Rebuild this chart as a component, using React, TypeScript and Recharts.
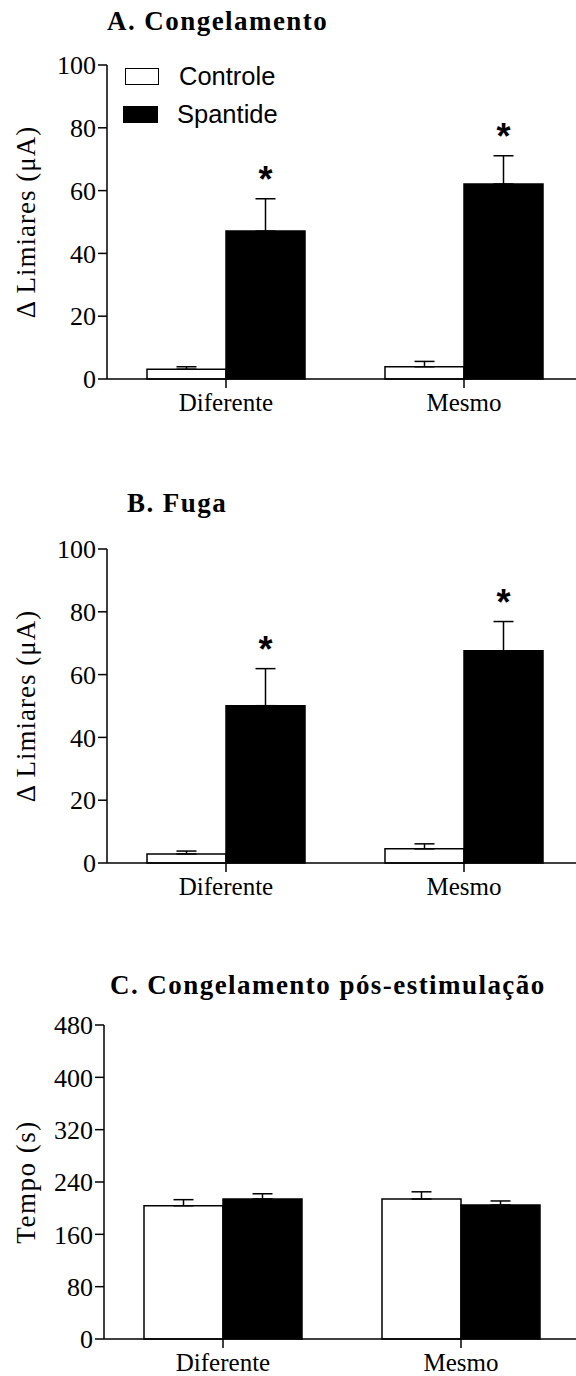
import React from "react";
import {
  BarChart, Bar, XAxis, YAxis, ErrorBar, LabelList, Legend,
} from "recharts";

const categories = ["Diferente", "Mesmo"];

// A. Congelamento
const aControle = [3.1, 3.9];
const aControleErr = [0.8, 1.7];
const aSpantide = [47.1, 62.1];
const aSpantideErr = [10.3, 9.0];

// B. Fuga
const bControle = [2.9, 4.5];
const bControleErr = [0.9, 1.6];
const bSpantide = [50.1, 67.6];
const bSpantideErr = [11.8, 9.3];

// C. Congelamento pós-estimulação
const cControle = [203.7, 214];
const cControleErr = [9.3, 11];
const cSpantide = [214, 204.8];
const cSpantideErr = [8, 6.2];

const limiarTicks = [0, 20, 40, 60, 80, 100];
const tempoTicks = [0, 80, 160, 240, 320, 400, 480];

const SERIF = "'Liberation Serif', 'Times New Roman', serif";
const SANS = "'Liberation Sans', Arial, sans-serif";

function buildRows(ctrl: number[], ctrlErr: number[], sp: number[], spErr: number[]) {
  return categories.map((name, i) => ({
    name,
    controle: ctrl[i],
    controleErr: [0, ctrlErr[i]],
    spantide: sp[i],
    spantideErr: [0, spErr[i]],
  }));
}

function LegendContent() {
  return (
    <div style={{ position: "relative", width: 300, height: 130, fontFamily: SANS, fontSize: 25.5 }}>
      <div style={{ position: "absolute", left: 125, top: 68, width: 32, height: 15, border: "1.5px solid #000", background: "#fff" }} />
      <div style={{ position: "absolute", left: 179, top: 62, lineHeight: "29px" }}>Controle</div>
      <div style={{ position: "absolute", left: 123, top: 106, width: 35, height: 17, background: "#000" }} />
      <div style={{ position: "absolute", left: 177, top: 100, lineHeight: "29px" }}>Spantide</div>
    </div>
  );
}

interface PanelProps {
  top: number;
  height: number;
  title: string;
  titleX: number;
  titleY: number;
  yLabel: string;
  yLabelSpacing: number;
  ticks: number[];
  axisX: number;
  data: ReturnType<typeof buildRows>;
  spValues: number[];
  spErrs: number[];
  stars: boolean;
  legend: boolean;
}

function Panel({
  top, height, title, titleX, titleY, yLabel, yLabelSpacing, ticks, axisX,
  data, spValues, spErrs, stars, legend,
}: PanelProps) {
  const chartW = 600;
  const plotW = 476;

  const renderYLabel = (props: any) => {
    const vb = props.viewBox ?? {};
    const cy = (vb.y ?? 65) + (vb.height ?? 314) / 2;
    return (
      <text
        x={26}
        y={cy}
        transform={`rotate(-90, 26, ${cy})`}
        textAnchor="middle"
        dominantBaseline="central"
        fontFamily={SERIF}
        fontSize={27}
        letterSpacing={yLabelSpacing}
        fill="#000"
      >
        {yLabel}
      </text>
    );
  };

  const renderStar = (props: any) => {
    const i = props.index;
    const x = Number(props.x);
    const y = Number(props.y);
    const w = Number(props.width);
    const h = Number(props.height);
    const v = spValues[i];
    if (!v) return null;
    const pxPerUnit = h / v;
    const errTop = y - spErrs[i] * pxPerUnit;
    return (
      <text
        x={x + w / 2}
        y={errTop - 7}
        textAnchor="middle"
        fontFamily={SANS}
        fontWeight="bold"
        fontSize={36}
        fill="#000"
      >
        *
      </text>
    );
  };

  return (
    <div style={{ position: "absolute", left: 0, top, width: chartW, height }}>
      <svg
        width={576}
        height={60}
        style={{ position: "absolute", left: 0, top: 0, overflow: "visible" }}
      >
        <text
          x={titleX}
          y={titleY}
          fontFamily={SERIF}
          fontWeight="bold"
          fontSize={27}
          letterSpacing={1.45}
          fill="#000"
        >
          {title}
        </text>
      </svg>
      <BarChart
        width={chartW}
        height={height}
        data={data}
        margin={{ top: 65, right: chartW - axisX - plotW, bottom: 0, left: 0 }}
        barCategoryGap={40}
        barGap={0}
      >
        <XAxis
          dataKey="name"
          axisLine={{ stroke: "#000", strokeWidth: 1.5 }}
          tickLine={{ stroke: "#000", strokeWidth: 1.5 }}
          tickSize={9}
          tickMargin={5}
          height={height - 65 - 314}
          tick={{ fontFamily: SERIF, fontSize: 25, fill: "#000" }}
        />
        <YAxis
          width={axisX}
          domain={[0, ticks[ticks.length - 1]]}
          ticks={ticks}
          interval={0}
          axisLine={{ stroke: "#000", strokeWidth: 1.5 }}
          tickLine={{ stroke: "#000", strokeWidth: 1.5 }}
          tickSize={9}
          tickMargin={2}
          tick={{ fontFamily: SERIF, fontSize: 26, fill: "#000" }}
          label={renderYLabel}
        />
        {legend && (
          <Legend
            layout="vertical"
            align="center"
            verticalAlign="middle"
            content={<LegendContent />}
            wrapperStyle={{ left: 0, top: 0, width: 300, height: 130 }}
          />
        )}
        <Bar
          dataKey="controle"
          name="Controle"
          fill="#fff"
          stroke="#000"
          strokeWidth={1.5}
          isAnimationActive={false}
        >
          <ErrorBar dataKey="controleErr" width={10} stroke="#000" strokeWidth={1.5} direction="y" isAnimationActive={false} />
        </Bar>
        <Bar
          dataKey="spantide"
          name="Spantide"
          fill="#000"
          stroke="#000"
          strokeWidth={1.5}
          isAnimationActive={false}
        >
          <ErrorBar dataKey="spantideErr" width={10} stroke="#000" strokeWidth={1.5} direction="y" isAnimationActive={false} />
          {stars && <LabelList dataKey="spantide" content={renderStar} />}
        </Bar>
      </BarChart>
    </div>
  );
}

export default function App() {
  return (
    <div
      style={{
        position: "absolute",
        left: 0,
        top: 0,
        width: 576,
        height: 1376,
        overflow: "hidden",
        background: "#fff",
      }}
    >
      <Panel
        top={0}
        height={420}
        title="A. Congelamento"
        titleX={107}
        titleY={30}
        yLabel="Δ Limiares (μA)"
        yLabelSpacing={1}
        ticks={limiarTicks}
        axisX={107}
        data={buildRows(aControle, aControleErr, aSpantide, aSpantideErr)}
        spValues={aSpantide}
        spErrs={aSpantideErr}
        stars
        legend
      />
      <Panel
        top={484}
        height={420}
        title="B. Fuga"
        titleX={127}
        titleY={28}
        yLabel="Δ Limiares (μA)"
        yLabelSpacing={1}
        ticks={limiarTicks}
        axisX={107}
        data={buildRows(bControle, bControleErr, bSpantide, bSpantideErr)}
        spValues={bSpantide}
        spErrs={bSpantideErr}
        stars
        legend={false}
      />
      <Panel
        top={960}
        height={416}
        title="C. Congelamento pós-estimulação"
        titleX={110}
        titleY={34}
        yLabel="Tempo (s)"
        yLabelSpacing={1.5}
        ticks={tempoTicks}
        axisX={104}
        data={buildRows(cControle, cControleErr, cSpantide, cSpantideErr)}
        spValues={cSpantide}
        spErrs={cSpantideErr}
        stars={false}
        legend={false}
      />
    </div>
  );
}
